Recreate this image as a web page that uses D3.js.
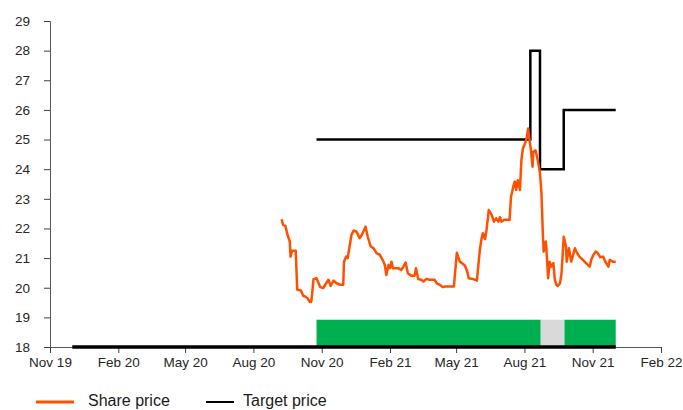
<!DOCTYPE html>
<html>
<head>
<meta charset="utf-8">
<script src="https://cdn.jsdelivr.net/npm/d3@7"></script>
<style>
  body { margin: 0; background: #fff; }
  text { font-family: "Liberation Sans", Arial, sans-serif; }
</style>
</head>
<body>
<svg id="chart" width="683" height="410"></svg>
<script>
// share price
var priceDates = [
  "2020-09-08","2020-09-10","2020-09-13","2020-09-16","2020-09-19","2020-09-20","2020-09-22","2020-09-27",
  "2020-09-29","2020-10-04","2020-10-07","2020-10-10","2020-10-13","2020-10-16","2020-10-18","2020-10-21",
  "2020-10-25","2020-10-30","2020-11-03","2020-11-10","2020-11-13","2020-11-17","2020-11-21","2020-11-26",
  "2020-11-30","2020-12-01","2020-12-04","2020-12-06","2020-12-11","2020-12-14","2020-12-18","2020-12-22",
  "2020-12-25","2020-12-30","2021-01-02","2021-01-06","2021-01-10","2021-01-14","2021-01-18","2021-01-22",
  "2021-01-25","2021-01-27","2021-01-30","2021-02-01","2021-02-03","2021-02-05","2021-02-12","2021-02-16",
  "2021-02-19","2021-02-22","2021-02-25","2021-03-02","2021-03-06","2021-03-08","2021-03-11","2021-03-15",
  "2021-03-18","2021-03-22","2021-03-26","2021-04-02","2021-04-05","2021-04-09","2021-04-13","2021-04-16",
  "2021-04-20","2021-04-28","2021-05-02","2021-05-06","2021-05-09","2021-05-13","2021-05-16","2021-05-18",
  "2021-05-24","2021-05-29","2021-06-02","2021-06-04","2021-06-06","2021-06-09","2021-06-11","2021-06-14",
  "2021-06-18","2021-06-21","2021-06-24","2021-06-27","2021-06-29","2021-07-01","2021-07-05","2021-07-12",
  "2021-07-14","2021-07-17","2021-07-19","2021-07-21","2021-07-23","2021-07-26","2021-07-28","2021-07-30",
  "2021-08-01","2021-08-04","2021-08-06","2021-08-08","2021-08-10","2021-08-12","2021-08-13","2021-08-16",
  "2021-08-19","2021-08-22","2021-08-24","2021-08-26","2021-08-27","2021-08-30","2021-09-02","2021-09-04",
  "2021-09-06","2021-09-09","2021-09-11","2021-09-13","2021-09-15","2021-09-18","2021-09-20","2021-09-23",
  "2021-09-26","2021-09-27","2021-09-30","2021-10-03","2021-10-05","2021-10-08","2021-10-10","2021-10-14",
  "2021-10-18","2021-10-23","2021-10-28","2021-10-30","2021-11-02","2021-11-05","2021-11-08","2021-11-11",
  "2021-11-15","2021-11-18","2021-11-22","2021-11-24","2021-11-28","2021-12-02"
];
var priceValues = [
  22.31,22.12,22.09,21.78,21.56,21.05,21.25,21.25,
  19.93,19.91,19.73,19.70,19.64,19.52,19.53,20.29,
  20.32,20.02,19.99,20.27,20.06,20.24,20.15,20.10,
  20.10,20.88,21.05,21.00,21.78,21.93,21.89,21.67,
  21.78,22.06,21.72,21.39,21.33,21.16,21.12,20.94,
  20.77,20.43,20.77,20.66,20.88,20.66,20.66,20.60,
  20.71,20.85,20.49,20.40,20.40,20.66,20.29,20.27,
  20.21,20.30,20.27,20.27,20.15,20.10,20.02,20.04,
  20.04,20.04,21.18,20.88,20.83,20.74,20.55,20.32,
  20.29,20.24,21.28,21.61,21.84,21.64,21.95,22.62,
  22.45,22.23,22.34,22.23,22.38,22.23,22.29,22.29,
  23.07,23.41,23.58,23.30,23.63,23.30,24.31,24.70,
  24.81,25.04,25.37,24.98,24.59,24.08,24.59,24.64,
  24.31,23.86,23.19,21.72,21.22,21.56,20.32,20.88,
  20.71,20.83,20.27,20.10,20.06,20.15,20.49,21.72,
  21.39,20.88,21.33,20.88,21.05,21.33,21.22,21.05,
  20.96,20.83,20.71,20.94,21.11,21.22,21.16,21.03,
  21.05,20.88,20.71,20.94,20.88,20.88
];

// target price, step changes
var targetDates = ["2020-10-25","2021-08-09","2021-08-22","2021-09-23","2021-12-02"];
var targetValues = [25, 28, 24, 26, 26];

// rating bands
var ratingStarts = ["2020-10-25","2021-08-23","2021-09-24"];
var ratingEnds = ["2021-08-23","2021-09-24","2021-12-02"];
var ratingKinds = ["buy","hold","buy"];

// coverage period line along the bottom
var coverageDates = ["2019-12-01","2021-12-02"];

var xTicks = ["2019-11-01","2020-02-01","2020-05-01","2020-08-01","2020-11-01","2021-02-01",
              "2021-05-01","2021-08-01","2021-11-01","2022-02-01"];
var yTicks = [18,19,20,21,22,23,24,25,26,27,28,29];

var parse = d3.timeParse("%Y-%m-%d");
var fmt = d3.timeFormat("%b %y");

var svg = d3.select("#chart");
var margin = {left: 50, right: 22, top: 21, bottom: 63};
var W = 683, H = 410;

var x = d3.scaleTime()
  .domain([parse(xTicks[0]), parse(xTicks[xTicks.length - 1])])
  .range([margin.left, W - margin.right]);
var y = d3.scaleLinear()
  .domain([18, 29])
  .range([H - margin.bottom, margin.top]);

var ratingColor = {buy: "#00b050", hold: "#d9d9d9"};
var bandTop = 18.92;

// rating bands
svg.append("g").selectAll("rect")
  .data(ratingKinds)
  .join("rect")
  .attr("x", function(d, i) { return x(parse(ratingStarts[i])); })
  .attr("width", function(d, i) { return x(parse(ratingEnds[i])) - x(parse(ratingStarts[i])); })
  .attr("y", y(bandTop))
  .attr("height", y(18) - y(bandTop))
  .attr("fill", function(d) { return ratingColor[d]; });

// axes
var yAxis = svg.append("g")
  .attr("transform", "translate(" + margin.left + ",0)")
  .call(d3.axisLeft(y).tickValues(yTicks).tickSize(6).tickPadding(14).tickFormat(d3.format("d")));
var xAxis = svg.append("g")
  .attr("transform", "translate(0," + y(18) + ")")
  .call(d3.axisBottom(x).tickValues(xTicks.map(parse)).tickSize(6).tickPadding(4).tickFormat(fmt));

[yAxis, xAxis].forEach(function(a) {
  a.select(".domain").attr("stroke", "#595959");
  a.selectAll(".tick line").attr("stroke", "#404040");
  a.selectAll(".tick text").attr("fill", "#262626").style("font-size", "13.5px");
});

// coverage line
svg.append("path")
  .datum(coverageDates)
  .attr("fill", "none")
  .attr("stroke", "#000")
  .attr("stroke-width", 3.5)
  .attr("d", d3.line().x(function(d) { return x(parse(d)); }).y(y(18)));

// target price
var targetData = targetDates.map(function(d, i) { return {date: parse(d), value: targetValues[i]}; });
svg.append("path")
  .datum(targetData)
  .attr("fill", "none")
  .attr("stroke", "#000")
  .attr("stroke-width", 2.5)
  .attr("d", d3.line().curve(d3.curveStepAfter)
    .x(function(d) { return x(d.date); })
    .y(function(d) { return y(d.value); }));

// share price
var priceData = priceDates.map(function(d, i) { return {date: parse(d), value: priceValues[i]}; });
svg.append("path")
  .datum(priceData)
  .attr("fill", "none")
  .attr("stroke", "#ff5000")
  .attr("stroke-width", 2.5)
  .attr("stroke-linejoin", "round")
  .attr("d", d3.line()
    .x(function(d) { return x(d.date); })
    .y(function(d) { return y(d.value); }));

// legend (kept just inside the bottom edge so descenders are not clipped)
var legend = [
  {label: "Share price", color: "#ff5000", x1: 36, x2: 74, tx: 88, w: 3},
  {label: "Target price", color: "#000", x1: 206, x2: 234, tx: 243, w: 2}
];
var lg = svg.append("g").selectAll("g").data(legend).join("g");
lg.append("line")
  .attr("x1", function(d) { return d.x1; })
  .attr("x2", function(d) { return d.x2; })
  .attr("y1", 402).attr("y2", 402)
  .attr("stroke", function(d) { return d.color; })
  .attr("stroke-width", function(d) { return d.w; });
lg.append("text")
  .attr("x", function(d) { return d.tx; })
  .attr("y", 406)
  .attr("fill", "#1a1a1a")
  .style("font-size", "16px")
  .text(function(d) { return d.label; });
</script>
</body>
</html>
